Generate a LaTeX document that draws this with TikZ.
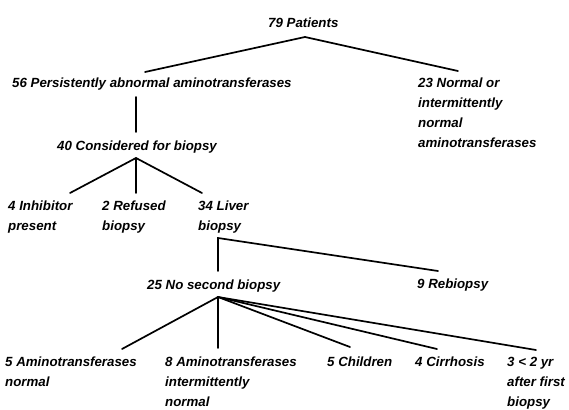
\documentclass[tikz,border=0pt]{standalone}
\usepackage{fontspec}
\setmainfont{Liberation Sans}
\usetikzlibrary{positioning}
\tikzset{
  lbl/.style={anchor=north west, inner sep=0pt, align=left, font=\fontsize{13.3}{19.8}\selectfont\bfseries\itshape},
  link/.style={line width=1.7pt, line cap=round},
}
\begin{document}
\begin{tikzpicture}[x=1pt, y=-1pt]
    \useasboundingbox (0,0) rectangle (569,409);
    % labels
    \node[lbl] (pat) at (268,18) {79 Patients};
    \node[lbl] (abn) at (12,78) {56 Persistently abnormal aminotransferases};
    \node[lbl] (nrm) at (418,78) {23 Normal or\\intermittently\\normal\\aminotransferases};
    \node[lbl] (con) at (57,141) {40 Considered for biopsy};
    \node[lbl] (inh) at (8,201) {4 Inhibitor\\present};
    \node[lbl] (ref) at (102,201) {2 Refused\\biopsy};
    \node[lbl] (liv) at (198,201) {34 Liver\\biopsy};
    \node[lbl] (nos) at (147,280) {25 No second biopsy};
    \node[lbl] (reb) at (417,279) {9 Rebiopsy};
    \node[lbl] (amn) at (5,357) {5 Aminotransferases\\normal};
    \node[lbl] (ami) at (165,357) {8 Aminotransferases\\intermittently\\normal};
    \node[lbl] (chi) at (327,357) {5 Children};
    \node[lbl] (cir) at (415,357) {4 Cirrhosis};
    \node[lbl] (yr) at (507,357) {3 < 2 yr\\after first\\biopsy};
    % joints and line ends
    \coordinate (jpat) at (305,37);
    \coordinate (abnT) at (145,72);
    \coordinate (nrmT) at (458,71);
    \coordinate (abnB) at (136,97);
    \coordinate (conT) at (136,132);
    \coordinate (jcon) at (136,158);
    \coordinate (inhT) at (70,193);
    \coordinate (refT) at (136,193);
    \coordinate (livT) at (202,193);
    \coordinate (jliv) at (218,238);
    \coordinate (nosT) at (218,271);
    \coordinate (rebT) at (438,271);
    \coordinate (jnos) at (218,297);
    \coordinate (amnT) at (122,349);
    \coordinate (amiT) at (218,348);
    \coordinate (chiT) at (350,347);
    \coordinate (cirT) at (437,349);
    \coordinate (yrT) at (536,350);
    % connectors
    \foreach \n in {abnT,nrmT} \draw[link] (jpat) -- (\n);
    \draw[link] (abnB) -- (conT);
    \foreach \n in {inhT,refT,livT} \draw[link] (jcon) -- (\n);
    \draw[link] (nosT) -- (jliv) -- (rebT);
    \foreach \n in {amnT,amiT,chiT,cirT,yrT} \draw[link] (jnos) -- (\n);
\end{tikzpicture}
\end{document}
